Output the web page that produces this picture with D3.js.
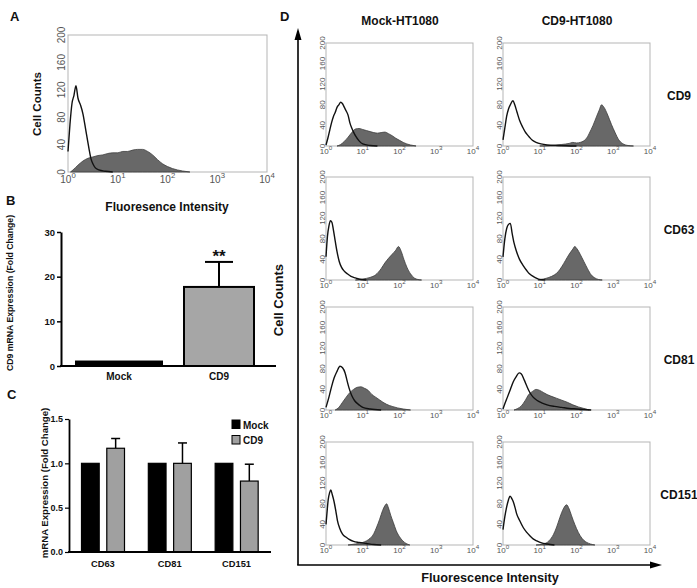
<!DOCTYPE html>
<html><head><meta charset="utf-8">
<script src="https://cdn.jsdelivr.net/npm/d3@7"></script>
<style>body{margin:0;background:#fff}svg{display:block;font-family:"Liberation Sans",Arial,Helvetica,sans-serif}</style>
</head><body><svg id="c" width="697" height="588"></svg>
<script>
// ---------------- DATA ----------------
const fluorDecades = [0, 1, 2, 3, 4];          // log10 fluorescence tick exponents
const countTicks = [0, 40, 80, 120, 160, 200];

// Panel A histogram: [log10 intensity, cell count]
const aControl = [[0,30],[0.04,70],[0.08,100],[0.12,112],[0.16,126],[0.2,108],[0.25,98],[0.3,85],[0.36,60],[0.42,35],[0.46,20],[0.5,12],[0.55,6],[0.62,3],[0.75,1],[0.9,0]];
const aStained = [[0.05,0],[0.1,3],[0.2,10],[0.3,16],[0.4,20],[0.5,22],[0.6,24],[0.7,25],[0.8,27],[0.9,28],[1.0,28],[1.1,30],[1.2,30],[1.3,32],[1.4,33],[1.5,33],[1.6,30],[1.7,25],[1.8,18],[1.9,12],[2.0,8],[2.1,5],[2.2,3],[2.3,1.5],[2.45,0]];

// Panel B
const bCategories = ["Mock", "CD9"];
const bValues = [1.0, 17.7];
const bErrors = [0, 5.6];
const bTicks = [0, 10, 20, 30];

// Panel C
const cGenes = ["CD63", "CD81", "CD151"];
const cGroups = ["Mock", "CD9"];
const cMock = [1.0, 1.0, 1.0];
const cCD9 = [1.17, 1.0, 0.80];
const cCD9Err = [0.11, 0.23, 0.19];
const cTicks = [0, 0.5, 1.0, 1.5];

// Panel D
const dColumns = ["Mock-HT1080", "CD9-HT1080"];
const dRows = ["CD9", "CD63", "CD81", "CD151"];
const mockCD9Control = [[0,2],[0.05,15],[0.1,30],[0.15,45],[0.2,57],[0.25,65],[0.3,75],[0.35,80],[0.4,85],[0.45,82],[0.5,75],[0.55,68],[0.6,60],[0.65,45],[0.7,35],[0.75,27],[0.8,20],[0.9,10],[1.0,4],[1.2,1],[1.4,0]];
const mockCD9Stained = [[0.3,0],[0.4,3],[0.5,9],[0.6,17],[0.7,26],[0.8,33],[0.9,34],[1.0,32],[1.1,30],[1.2,28],[1.3,26],[1.4,25],[1.5,26],[1.6,27],[1.7,24],[1.8,20],[1.9,15],[2.0,11],[2.1,7],[2.2,4],[2.3,2],[2.45,0]];
const cd9CD9Control = [[0,12],[0.05,35],[0.1,58],[0.15,72],[0.2,80],[0.27,88],[0.32,80],[0.38,66],[0.45,50],[0.54,36],[0.6,28],[0.66,22],[0.72,17],[0.8,11],[0.9,7],[1.03,4],[1.2,2],[1.5,1],[2.0,0]];
const cd9CD9Stained = [[1.0,0],[1.3,1],[1.6,3],[1.8,5],[1.9,7],[2.0,6],[2.1,7],[2.2,10],[2.3,18],[2.35,25],[2.45,40],[2.55,58],[2.62,70],[2.68,80],[2.75,75],[2.85,60],[2.95,42],[3.05,26],[3.15,12],[3.25,5],[3.4,1],[3.55,0]];
const mockCD63Control = [[0,45],[0.04,85],[0.08,105],[0.12,115],[0.16,112],[0.2,98],[0.25,76],[0.3,55],[0.36,36],[0.42,25],[0.5,17],[0.58,12],[0.68,7],[0.8,4],[0.95,1],[1.1,0]];
const mockCD63Stained = [[0.8,0],[1.0,2],[1.2,5],[1.35,10],[1.5,22],[1.6,33],[1.7,42],[1.8,50],[1.9,58],[1.97,65],[2.05,55],[2.12,40],[2.2,25],[2.3,12],[2.4,4],[2.5,1],[2.6,0]];
const cd9CD63Control = [[0,45],[0.05,80],[0.1,100],[0.15,108],[0.2,110],[0.25,90],[0.3,72],[0.37,55],[0.45,40],[0.55,28],[0.65,18],[0.72,12],[0.82,7],[0.92,3],[1.0,1],[1.15,0]];
const cd9CD63Stained = [[0.95,0],[1.1,2],[1.25,5],[1.4,10],[1.5,16],[1.6,26],[1.7,38],[1.8,50],[1.9,60],[1.95,65],[2.02,60],[2.1,50],[2.2,36],[2.3,22],[2.4,10],[2.5,4],[2.6,1],[2.7,0]];
const mockCD81Control = [[0,5],[0.08,25],[0.15,45],[0.22,62],[0.3,75],[0.38,85],[0.45,82],[0.52,72],[0.58,55],[0.63,42],[0.7,28],[0.78,18],[0.9,10],[1.0,5],[1.2,2],[1.5,0]];
const mockCD81Stained = [[0.25,0],[0.35,5],[0.45,15],[0.55,25],[0.65,34],[0.75,40],[0.85,44],[0.95,45],[1.05,42],[1.15,38],[1.25,30],[1.35,25],[1.45,20],[1.55,15],[1.65,11],[1.8,7],[1.95,4],[2.1,2],[2.3,0]];
const cd9CD81Control = [[0,2],[0.05,12],[0.12,25],[0.2,40],[0.28,55],[0.36,65],[0.44,72],[0.5,70],[0.58,58],[0.65,46],[0.73,34],[0.82,25],[0.92,19],[1.05,14],[1.2,10],[1.4,7],[1.6,5],[1.8,3],[2.0,2],[2.2,1],[2.4,0]];
const cd9CD81Stained = [[0.3,0],[0.4,3],[0.5,8],[0.6,18],[0.7,30],[0.8,36],[0.9,40],[1.0,38],[1.1,34],[1.2,30],[1.3,27],[1.45,23],[1.6,19],[1.75,15],[1.9,10],[2.05,6],[2.2,3],[2.35,0]];
const mockCD151Control = [[0,40],[0.03,65],[0.06,88],[0.1,102],[0.13,107],[0.17,98],[0.22,84],[0.27,65],[0.31,48],[0.37,33],[0.45,21],[0.55,15],[0.63,11],[0.75,7],[0.9,5],[1.1,3],[1.3,1],[1.5,0]];
const mockCD151Stained = [[0.6,0],[0.8,2],[1.0,5],[1.1,8],[1.2,13],[1.3,22],[1.38,35],[1.46,50],[1.54,67],[1.6,76],[1.65,80],[1.7,72],[1.76,58],[1.83,44],[1.91,28],[2.0,16],[2.09,8],[2.18,3],[2.28,0]];
const cd9CD151Control = [[0,30],[0.05,55],[0.1,74],[0.15,88],[0.19,95],[0.24,90],[0.28,84],[0.33,72],[0.37,61],[0.45,48],[0.55,34],[0.64,25],[0.73,18],[0.82,12],[0.92,8],[1.05,4],[1.2,2],[1.4,0]];
const cd9CD151Stained = [[0.9,0],[1.1,2],[1.25,8],[1.37,20],[1.46,35],[1.55,54],[1.64,70],[1.73,78],[1.8,70],[1.86,58],[1.91,48],[2.0,32],[2.1,18],[2.2,9],[2.28,5],[2.38,2],[2.5,0]];

const dHist = [
  [[mockCD9Control, mockCD9Stained], [cd9CD9Control, cd9CD9Stained]],
  [[mockCD63Control, mockCD63Stained], [cd9CD63Control, cd9CD63Stained]],
  [[mockCD81Control, mockCD81Stained], [cd9CD81Control, cd9CD81Stained]],
  [[mockCD151Control, mockCD151Stained], [cd9CD151Control, cd9CD151Stained]]
];

// ---------------- DRAW ----------------
const svg = d3.select("#c");
const FILL = "#686868";

function hist(box, control, stained, o) {
  const x = d3.scaleLinear().domain([0, 4]).range([box.x, box.x + box.w]);
  const y = d3.scaleLinear().domain([0, 200]).range([box.y + box.h, box.y]);
  const g = svg.append("g");
  g.append("rect").attr("x", box.x).attr("y", box.y).attr("width", box.w).attr("height", box.h)
    .attr("fill", "none").attr("stroke", "#b5b5b5").attr("stroke-width", 1);
  g.append("path").datum(stained)
    .attr("d", d3.area().x(d => x(d[0])).y0(y(0)).y1(d => y(d[1])).curve(d3.curveMonotoneX))
    .attr("fill", FILL).attr("stroke", "#3c3c3c").attr("stroke-width", 0.8);
  g.append("path").datum(control)
    .attr("d", d3.line().x(d => x(d[0])).y(d => y(d[1])).curve(d3.curveMonotoneX))
    .attr("fill", "none").attr("stroke", "#111").attr("stroke-width", 1.4);
  countTicks.forEach(t => {
    g.append("text").attr("transform", `translate(${box.x - o.yOff},${y(t)}) rotate(-90)`)
      .attr("text-anchor", "middle").attr("font-size", o.fs).attr("fill", "#555").text(t);
  });
  fluorDecades.forEach(d => {
    const t = g.append("text").attr("x", x(d)).attr("y", box.y + box.h + o.xOff)
      .attr("text-anchor", "middle").attr("font-size", o.fs).attr("fill", "#555");
    t.append("tspan").text("10");
    t.append("tspan").attr("dy", -o.fs * 0.45).attr("font-size", o.fs * 0.78).text(d);
  });
}

function label(x, y, txt, size, opts = {}) {
  const t = svg.append("text").attr("x", x).attr("y", y).attr("font-size", size)
    .attr("font-weight", opts.weight || "bold").attr("fill", opts.fill || "#111")
    .attr("text-anchor", opts.anchor || "middle").text(txt);
  if (opts.rotate) t.attr("transform", `rotate(-90,${x},${y})`);
  return t;
}

// Panel letters
label(10, 21, "A", 13, {anchor: "start"});
label(6, 205, "B", 13, {anchor: "start"});
label(7, 399, "C", 13, {anchor: "start"});
label(280, 21, "D", 13, {anchor: "start"});

// ---- Panel A ----
hist({x: 68, y: 35, w: 199, h: 137}, aControl, aStained, {fs: 10, yOff: 3, xOff: 10.5});
label(41, 104, "Cell Counts", 11.5, {rotate: true});
label(167, 211, "Fluoresence Intensity", 12);

// ---- Panel B ----
{
  const y = d3.scaleLinear().domain([0, 30]).range([366, 232]);
  const x = d3.scaleBand().domain(bCategories).range([69, 269]).padding(0);
  const widths = {Mock: 86, CD9: 70};
  const fills = {Mock: "#000", CD9: "#a6a6a6"};
  const g = svg.append("g");
  bCategories.forEach((c, i) => {
    const cx = x(c) + x.bandwidth() / 2;
    const w = widths[c];
    if (bErrors[i] > 0) {
      g.append("line").attr("x1", cx).attr("x2", cx).attr("y1", y(bValues[i])).attr("y2", y(bValues[i] + bErrors[i]))
        .attr("stroke", "#000").attr("stroke-width", 2);
      g.append("line").attr("x1", cx - 14).attr("x2", cx + 14).attr("y1", y(bValues[i] + bErrors[i])).attr("y2", y(bValues[i] + bErrors[i]))
        .attr("stroke", "#000").attr("stroke-width", 2);
    }
    g.append("rect").attr("x", cx - w / 2).attr("y", y(bValues[i])).attr("width", w).attr("height", y(0) - y(bValues[i]))
      .attr("fill", fills[c]).attr("stroke", "#000").attr("stroke-width", 2);
    label(cx, 380, c, 10);
  });
  const ax = g.append("g").attr("transform", "translate(61,0)")
    .call(d3.axisLeft(y).tickValues(bTicks).tickSize(4).tickSizeOuter(0).tickPadding(2));
  ax.select(".domain").attr("stroke", "#000").attr("stroke-width", 2);
  ax.selectAll(".tick line").attr("stroke", "#000").attr("stroke-width", 1.5);
  ax.selectAll("text").attr("font-size", 9.5).attr("font-weight", "bold").attr("fill", "#111").attr("font-family", null);
  g.append("line").attr("x1", 60).attr("x2", 276).attr("y1", 366).attr("y2", 366).attr("stroke", "#000").attr("stroke-width", 2);
  label(219, 262, "**", 17);
  label(13, 293, "CD9 mRNA Expression (Fold Change)", 8.7, {rotate: true});
}

// ---- Panel C ----
{
  const y = d3.scaleLinear().domain([0, 1.5]).range([552, 419]);
  const x0 = d3.scaleBand().domain(cGenes).range([69.5, 270]).padding(0);
  const x1 = d3.scaleBand().domain(cGroups).range([12, 55]).paddingInner(0.3);
  const fills = {Mock: "#000", CD9: "#a0a0a0"};
  const g = svg.append("g");
  cGenes.forEach((gene, i) => {
    const vals = {Mock: cMock[i], CD9: cCD9[i]};
    const errs = {Mock: 0, CD9: cCD9Err[i]};
    cGroups.forEach(s => {
      const bx = x0(gene) + x1(s);
      const cx = bx + x1.bandwidth() / 2;
      if (errs[s] > 0) {
        g.append("line").attr("x1", cx).attr("x2", cx).attr("y1", y(vals[s])).attr("y2", y(vals[s] + errs[s]))
          .attr("stroke", "#000").attr("stroke-width", 1.5);
        g.append("line").attr("x1", cx - 4.5).attr("x2", cx + 4.5).attr("y1", y(vals[s] + errs[s])).attr("y2", y(vals[s] + errs[s]))
          .attr("stroke", "#000").attr("stroke-width", 1.5);
      }
      g.append("rect").attr("x", bx).attr("y", y(vals[s])).attr("width", x1.bandwidth()).attr("height", y(0) - y(vals[s]))
        .attr("fill", fills[s]).attr("stroke", "#000").attr("stroke-width", 1.2);
    });
    label(x0(gene) + x0.bandwidth() / 2, 567, gene, 9.3);
  });
  const ax = g.append("g").attr("transform", "translate(69,0)")
    .call(d3.axisLeft(y).tickValues(cTicks).tickFormat(d3.format(".1f")).tickSize(4).tickSizeOuter(0).tickPadding(2));
  ax.select(".domain").attr("stroke", "#000").attr("stroke-width", 1.8);
  ax.selectAll(".tick line").attr("stroke", "#000").attr("stroke-width", 1.2);
  ax.selectAll("text").attr("font-size", 9).attr("font-weight", "bold").attr("fill", "#111").attr("font-family", null);
  g.append("line").attr("x1", 68).attr("x2", 271).attr("y1", 552).attr("y2", 552).attr("stroke", "#000").attr("stroke-width", 1.8);
  // legend
  cGroups.forEach((s, i) => {
    g.append("rect").attr("x", 232).attr("y", 420 + i * 15.5).attr("width", 8).attr("height", 8.5)
      .attr("fill", fills[s]).attr("stroke", "#000").attr("stroke-width", 1);
    label(243, 428.5 + i * 15.5, s, 10, {anchor: "start"});
  });
  label(48, 483, "mRNA Expression (Fold Change)", 9.6, {rotate: true});
}

// ---- Panel D ----
{
  const colX = [326, 503];
  const rowY = [43, 177, 307, 442];
  dColumns.forEach((c, j) => label(colX[j] + 74, 25, c, 12));
  dRows.forEach((r, i) => {
    dHist[i].forEach((pair, j) => {
      hist({x: colX[j], y: rowY[i], w: 147, h: 103}, pair[0], pair[1], {fs: 8, yOff: 1, xOff: 7.5});
    });
    label(679, rowY[i] + 57, r, 12);
  });
  // arrows
  const ax = 298, ay = 565;
  svg.append("line").attr("x1", ax).attr("y1", ay).attr("x2", ax).attr("y2", 36).attr("stroke", "#000").attr("stroke-width", 1.6);
  svg.append("path").attr("d", `M${ax},28 L${ax - 3.5},40 L${ax + 3.5},40 Z`).attr("fill", "#000");
  svg.append("line").attr("x1", ax - 0.8).attr("y1", ay).attr("x2", 654).attr("y2", ay).attr("stroke", "#000").attr("stroke-width", 1.6);
  svg.append("path").attr("d", `M662,${ay} L650,${ay - 3.5} L650,${ay + 3.5} Z`).attr("fill", "#000");
  label(283, 300, "Cell Counts", 13, {rotate: true});
  label(490, 582, "Fluorescence Intensity", 12.7);
}
</script></body></html>
